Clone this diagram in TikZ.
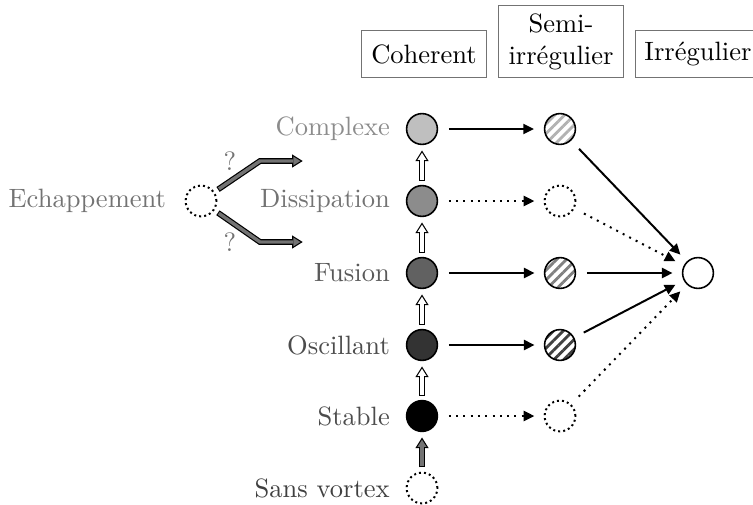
\documentclass[tikz,border=0pt]{standalone}
\usepackage{tikz}
\usetikzlibrary{arrows.meta,positioning,patterns.meta}

\tikzset{
  etat/.style={circle, draw, line width=0.6pt, minimum size=11.6pt, inner sep=0pt},
  vide/.style={etat, dash pattern=on 0.75pt off 1.15pt, line width=0.75pt},
  raye/.style={etat, pattern={Lines[angle=45,distance=2.6pt,line width=1.1pt]}, pattern color=#1},
  titre/.style={draw=black!55, minimum width=47pt, minimum height=17.7pt, inner sep=3pt, align=center, anchor=south},
  nom/.style={text=#1},
  fleche/.style={line width=0.75pt, -{Triangle[length=4pt,width=3.8pt]}, shorten <=4pt, shorten >=3.5pt},
  pointe/.style={fleche, dotted},
  creux/.style={draw=black, line width=2.2pt, -{Triangle[length=4pt,width=5pt,line width=0pt]},
    shorten <=1.6pt, shorten >=2pt,
    postaction={draw=#1, line width=1.3pt, -{Triangle[length=2.7pt,width=3.4pt,line width=0pt]},
      shorten <=2pt, shorten >=2.85pt}},
  creux/.default=white
}

\begin{document}
\begin{tikzpicture}[x=0.377pt,y=-0.377pt]
\useasboundingbox (0,0) rectangle (753,504);
% titres
\node [titre] (tcoh) at (424,78) {Coherent};
\node [titre] (tsemi) at (561,78) {Semi-\\irrégulier};
\node [titre] (tirr) at (698,78) {Irrégulier};
% regime coherent
\node [etat, fill=black!25] (complexe) at (422,129) {};
\node [etat, fill=black!45] (dissipation) at (422,201) {};
\node [etat, fill=black!62] (fusion) at (422,273) {};
\node [etat, fill=black!80] (oscillant) at (422,345) {};
\node [etat, fill=black] (stable) at (422,416) {};
\node [vide] (sans) at (422,488) {};
% regime semi-irregulier
\node [raye=black!30] (complexe2) at (560,129) {};
\node [vide] (dissipation2) at (560,201) {};
\node [raye=black!50] (fusion2) at (560,273) {};
\node [raye=black!75] (oscillant2) at (560,345) {};
\node [vide] (stable2) at (560,416) {};
% regime irregulier
\node [etat] (irr) at (698,273) {};
% echappement
\node [vide] (echap) at (201,201) {};
\coordinate (coude1) at (260,161);
\coordinate (coude2) at (260,242);
\coordinate (haut) at (308,161);
\coordinate (bas) at (308,242);
% noms
\node [left=2.5pt of complexe, nom=black!45] (tcomplexe) {Complexe};
\node [left=2.5pt of dissipation, nom=black!55] (tdissipation) {Dissipation};
\node [left=2.5pt of fusion, nom=black!65] (tfusion) {Fusion};
\node [left=2.5pt of oscillant, nom=black!70] (toscillant) {Oscillant};
\node [left=2.5pt of stable, nom=black!70] (tstable) {Stable};
\node [left=2.5pt of sans, nom=black!75] (tsans) {Sans vortex};
\node [left=3.5pt of echap, nom=black!55] (techap) {Echappement};
\node [nom=black!55] (q1) at (230,161) {?};
\node [nom=black!55] (q2) at (230,242) {?};
% transitions
\draw [creux] (dissipation) -- (complexe);
\draw [creux] (fusion) -- (dissipation);
\draw [creux] (oscillant) -- (fusion);
\draw [creux] (stable) -- (oscillant);
\draw [creux=black!55] (sans) -- (stable);
\draw [creux=black!55] (echap) -- (coude1) -- (haut);
\draw [creux=black!55] (echap) -- (coude2) -- (bas);
% vers semi-irregulier
\draw [fleche] (complexe) -- (complexe2);
\draw [pointe] (dissipation) -- (dissipation2);
\draw [fleche] (fusion) -- (fusion2);
\draw [fleche] (oscillant) -- (oscillant2);
\draw [pointe] (stable) -- (stable2);
% vers irregulier
\draw [fleche] (complexe2) -- (irr);
\draw [pointe] (dissipation2) -- (irr);
\draw [fleche] (fusion2) -- (irr);
\draw [fleche] (oscillant2) -- (irr);
\draw [pointe] (stable2) -- (irr);
\end{tikzpicture}
\end{document}
